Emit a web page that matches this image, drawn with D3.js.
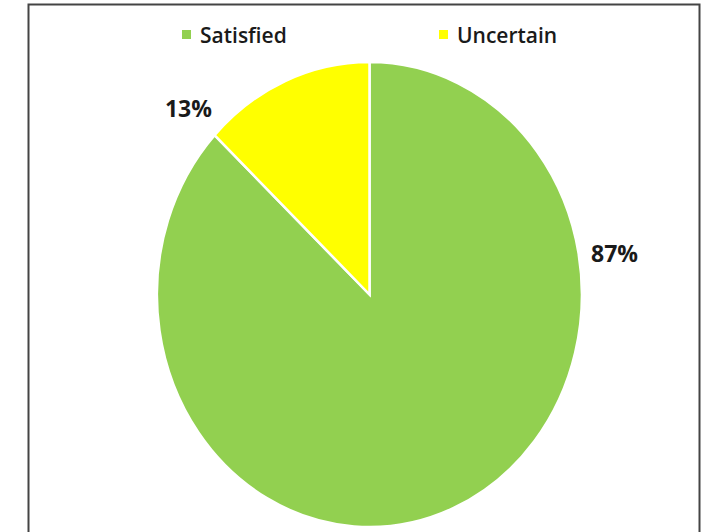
<!DOCTYPE html>
<html>
<head>
<meta charset="utf-8">
<script src="https://cdn.jsdelivr.net/npm/d3@7"></script>
<style>
  html, body { margin: 0; padding: 0; background: #fff; }
  svg { display: block; }
  text { font-family: "Open Sans", "Liberation Sans", sans-serif; fill: #1a1a1a; }
</style>
</head>
<body>
<svg id="chart" width="706" height="532"></svg>
<script>
// Survey response shares
const categories = ["Satisfied", "Uncertain"];
const values = [87, 13];
const colors = ["#92D050", "#FFFF00"];

const svg = d3.select("#chart");

// Outer frame
svg.append("rect")
  .attr("x", 28.5).attr("y", 4.5)
  .attr("width", 671).attr("height", 530)
  .attr("fill", "#fff").attr("stroke", "#444").attr("stroke-width", 2);

// Pie is drawn as a unit circle and stretched into an ellipse
const cx = 369.5, cy = 294.5, rx = 212.5, ry = 232.5;
const pie = d3.pie().sort(null).value(d => d.value)
  .startAngle(0).endAngle(2 * Math.PI);
const data = categories.map((c, i) => ({ name: c, value: values[i], color: colors[i] }));
// Satisfied runs clockwise from 12 o'clock; Uncertain fills the remaining wedge
const arcs = pie(data);
const arc = d3.arc().innerRadius(0).outerRadius(1);

const g = svg.append("g")
  .attr("transform", `translate(${cx},${cy}) scale(${rx},${ry})`);
g.selectAll("path")
  .data(arcs)
  .join("path")
  .attr("d", arc)
  .attr("fill", d => d.data.color)
  .attr("stroke", "#fff")
  .attr("stroke-width", 2.5)
  .attr("vector-effect", "non-scaling-stroke");

// Value labels placed outside the ellipse
const labelPos = {
  Satisfied: { ux: 1.153, uy: -0.18 },
  Uncertain: { ux: -0.852, uy: -0.804 }
};
svg.selectAll("text.val")
  .data(arcs)
  .join("text")
  .attr("class", "val")
  .attr("x", d => cx + labelPos[d.data.name].ux * rx)
  .attr("y", d => cy + labelPos[d.data.name].uy * ry)
  .attr("text-anchor", "middle")
  .attr("dominant-baseline", "central")
  .attr("font-size", 23)
  .attr("font-weight", "bold")
  .text(d => d.data.value + "%");

// Legend
const legendX = [182, 439];
const lg = svg.selectAll("g.legend")
  .data(data)
  .join("g")
  .attr("class", "legend")
  .attr("transform", (d, i) => `translate(${legendX[i]},34.5)`);
lg.append("rect")
  .attr("x", 0).attr("y", -4.5)
  .attr("width", 9).attr("height", 9)
  .attr("fill", d => d.color);
lg.append("text")
  .attr("x", 18).attr("y", 0)
  .attr("dominant-baseline", "central")
  .attr("font-size", 21)
  .attr("font-weight", 600)
  .text(d => d.name);
</script>
</body>
</html>
